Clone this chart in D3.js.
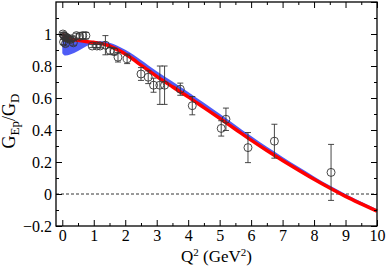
<!DOCTYPE html>
<html>
<head>
<meta charset="utf-8">
<script src="https://cdn.jsdelivr.net/npm/d3@7"></script>
<style>
  body { margin: 0; background: #fff; }
  svg text { font-family: "Liberation Serif", "DejaVu Serif", serif; fill: #000; }
</style>
</head>
<body>
<main></main>
<script>
const width = 388;
const height = 268;

// theory curve (red) and band (blue)
const curveQ = [0, 0.1, 0.25, 0.5, 0.75, 1.0, 1.25, 1.5, 1.75, 2.0, 2.25, 2.5, 2.75, 3.0, 3.5, 4.0, 4.5, 5.0, 5.5, 6.0, 6.5, 7.0, 7.5, 8.0, 8.5, 9.0, 9.5, 10];
const redG = [1.0, 0.985, 0.97, 0.96, 0.953, 0.948, 0.94, 0.925, 0.902, 0.875, 0.842, 0.805, 0.77, 0.735, 0.67, 0.607, 0.54, 0.473, 0.405, 0.337, 0.272, 0.21, 0.15, 0.092, 0.037, -0.015, -0.062, -0.107];
const bandHi = [1.0, 0.985, 0.97, 0.96, 0.955, 0.955, 0.955, 0.945, 0.927, 0.902, 0.872, 0.837, 0.802, 0.767, 0.703, 0.638, 0.57, 0.502, 0.432, 0.362, 0.295, 0.232, 0.17, 0.11, 0.053, 0.0, -0.049, -0.096];
const bandLo = [0.88, 0.865, 0.872, 0.893, 0.922, 0.944, 0.936, 0.921, 0.898, 0.871, 0.838, 0.801, 0.766, 0.731, 0.666, 0.603, 0.536, 0.469, 0.401, 0.333, 0.268, 0.206, 0.146, 0.088, 0.033, -0.019, -0.066, -0.111];

// data points: Q2, GEp/GD, error
const dataQ = [0.02, 0.05, 0.08, 0.12, 0.16, 0.2, 0.25, 0.3, 0.04, 0.1, 0.35, 0.45, 0.55, 0.65, 0.75,
               0.95, 1.1, 1.2, 1.37, 1.52, 1.65, 1.77, 2.06, 2.5, 2.73, 2.9, 3.1, 3.25, 3.75, 4.13, 5.05, 5.2, 5.9, 6.74, 8.54];
const dataG = [1.0, 0.99, 0.985, 0.98, 0.975, 0.97, 0.965, 0.97, 0.95, 0.94, 0.945, 0.99, 0.985, 0.99, 0.99,
               0.925, 0.925, 0.925, 0.93, 0.895, 0.89, 0.855, 0.845, 0.75, 0.73, 0.68, 0.68, 0.68, 0.655, 0.552, 0.41, 0.467, 0.29, 0.33, 0.135];
const dataErr = [0.01, 0.01, 0.01, 0.01, 0.01, 0.012, 0.012, 0.015, 0.015, 0.015, 0.015, 0.015, 0.015, 0.02, 0.02,
                 0.01, 0.01, 0.012, 0.06, 0.02, 0.02, 0.03, 0.03, 0.04, 0.04, 0.044, 0.12, 0.12, 0.038, 0.057, 0.048, 0.07, 0.094, 0.106, 0.175];

const xTicks = [0, 1, 2, 3, 4, 5, 6, 7, 8, 9, 10];
const yTicks = [-0.2, 0, 0.2, 0.4, 0.6, 0.8, 1];

const svg = d3.select('main').append('svg')
  .attr('width', width)
  .attr('height', height);

const x = d3.scaleLinear().domain([-0.2, 10]).range([56, 377]);
const y = d3.scaleLinear().domain([-0.2, 1.2]).range([226, 2]);

// band
const bandData = curveQ.map((q, i) => ({q, lo: bandLo[i], hi: bandHi[i]}));
svg.append('path')
  .datum(bandData)
  .attr('fill', '#4f5cf6')
  .attr('d', d3.area().x(d => x(d.q)).y0(d => y(d.lo)).y1(d => y(d.hi)).curve(d3.curveMonotoneX));

// zero line
svg.append('line')
  .attr('x1', x(-0.2)).attr('x2', x(10))
  .attr('y1', y(0)).attr('y2', y(0))
  .attr('stroke', '#000').attr('stroke-width', 0.8)
  .attr('stroke-dasharray', '3,2');

// red curve
svg.append('path')
  .datum(curveQ.map((q, i) => ({q, g: redG[i]})))
  .attr('fill', 'none')
  .attr('stroke', '#ff0000')
  .attr('stroke-width', 3.5)
  .attr('d', d3.line().x(d => x(d.q)).y(d => y(d.g)).curve(d3.curveMonotoneX));

// data points
const pts = dataQ.map((q, i) => ({q, g: dataG[i], e: dataErr[i]}));
const grp = svg.append('g').attr('stroke', '#333').attr('stroke-width', 0.9).attr('fill', 'none');
grp.selectAll('.err').data(pts).enter().append('path')
  .attr('d', d => {
    const cx = x(d.q), t = y(d.g + d.e), b = y(d.g - d.e);
    return `M${cx},${t}V${b}M${cx - 3},${t}H${cx + 3}M${cx - 3},${b}H${cx + 3}`;
  });
grp.selectAll('circle').data(pts).enter().append('circle')
  .attr('cx', d => x(d.q))
  .attr('cy', d => y(d.g))
  .attr('r', 4);

// axes with inward ticks on all sides
const tickSize = 6, minorSize = 3;
const minorX = d3.range(0, 10.01, 0.5).filter(v => Math.abs(v - Math.round(v)) > 0.01);
const minorY = d3.range(-0.1, 1.2, 0.2);

svg.append('g').attr('transform', `translate(0,${y(-0.2)})`)
  .call(d3.axisBottom(x).tickValues(xTicks).tickSize(-tickSize).tickPadding(4).tickFormat(d3.format('d')))
  .call(g => g.select('.domain').remove())
  .call(g => g.selectAll('text').attr('font-size', 16));
svg.append('g').attr('transform', `translate(0,${y(-0.2)})`)
  .call(d3.axisBottom(x).tickValues(minorX).tickSize(-minorSize).tickFormat(''))
  .call(g => g.select('.domain').remove());
svg.append('g').attr('transform', `translate(0,${y(1.2)})`)
  .call(d3.axisTop(x).tickValues(xTicks).tickSize(-tickSize).tickFormat(''))
  .call(g => g.select('.domain').remove());
svg.append('g').attr('transform', `translate(0,${y(1.2)})`)
  .call(d3.axisTop(x).tickValues(minorX).tickSize(-minorSize).tickFormat(''))
  .call(g => g.select('.domain').remove());

svg.append('g').attr('transform', `translate(${x(-0.2)},0)`)
  .call(d3.axisLeft(y).tickValues(yTicks).tickSize(-tickSize).tickPadding(4).tickFormat(d => d3.format('')(Math.round(d * 10) / 10)))
  .call(g => g.select('.domain').remove())
  .call(g => g.selectAll('text').attr('font-size', 16));
svg.append('g').attr('transform', `translate(${x(-0.2)},0)`)
  .call(d3.axisLeft(y).tickValues(minorY).tickSize(-minorSize).tickFormat(''))
  .call(g => g.select('.domain').remove());
svg.append('g').attr('transform', `translate(${x(10)},0)`)
  .call(d3.axisRight(y).tickValues(yTicks.concat([1.2])).tickSize(-tickSize).tickFormat(''))
  .call(g => g.select('.domain').remove());
svg.append('g').attr('transform', `translate(${x(10)},0)`)
  .call(d3.axisRight(y).tickValues(minorY).tickSize(-minorSize).tickFormat(''))
  .call(g => g.select('.domain').remove());

svg.selectAll('.tick line').attr('stroke', '#000').attr('stroke-width', 1);

// frame
svg.append('rect')
  .attr('x', x(-0.2)).attr('y', y(1.2))
  .attr('width', x(10) - x(-0.2)).attr('height', y(-0.2) - y(1.2))
  .attr('fill', 'none').attr('stroke', '#000').attr('stroke-width', 1.3);

// axis titles
const xl = svg.append('text')
  .attr('x', (x(-0.2) + x(10)) / 2).attr('y', 262)
  .attr('text-anchor', 'middle').attr('font-size', 17);
xl.append('tspan').text('Q');
xl.append('tspan').attr('font-size', 11).attr('dy', -6).text('2');
xl.append('tspan').attr('dy', 6).text(' (GeV');
xl.append('tspan').attr('font-size', 11).attr('dy', -6).text('2');
xl.append('tspan').attr('dy', 6).text(')');

const yl = svg.append('text')
  .attr('transform', `translate(15,121) rotate(-90)`)
  .attr('text-anchor', 'middle').attr('font-size', 18);
yl.append('tspan').text('G');
yl.append('tspan').attr('font-size', 13).attr('dy', 4).text('Ep');
yl.append('tspan').attr('dy', -4).text('/G');
yl.append('tspan').attr('font-size', 13).attr('dy', 4).text('D');
</script>
</body>
</html>
